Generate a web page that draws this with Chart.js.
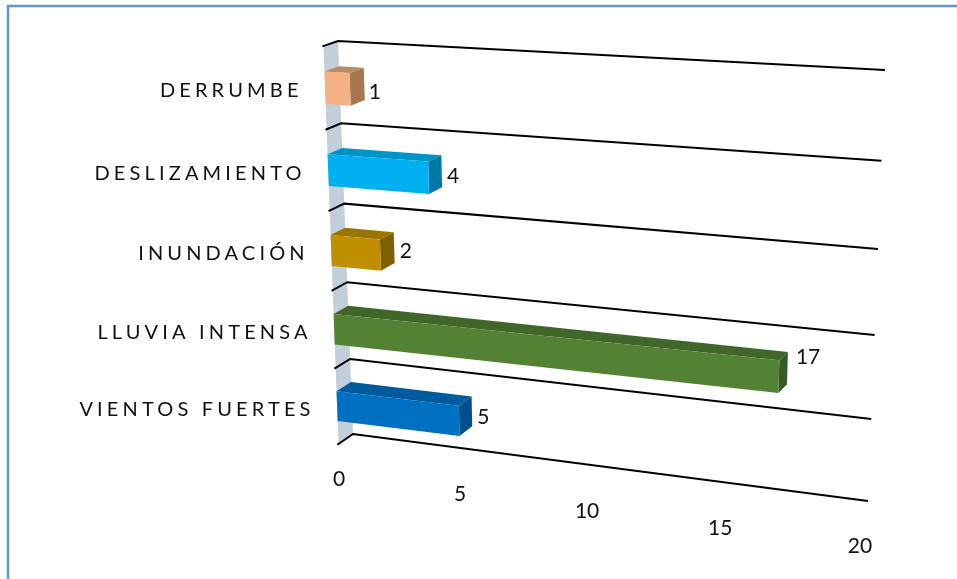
<!DOCTYPE html>
<html>
<head>
<meta charset="utf-8">
<style>
  body { margin: 0; background: #fff; }
</style>
<script src="https://cdn.jsdelivr.net/npm/chart.js@4/dist/chart.umd.min.js"></script>
</head>
<body>
<canvas id="myChart" width="957" height="579"></canvas>
<script>
const categories = ['DERRUMBE', 'DESLIZAMIENTO', 'INUNDACIÓN', 'LLUVIA INTENSA', 'VIENTOS FUERTES']
const values = [1, 4, 2, 17, 5]
const tickLabels = ['0', '5', '10', '15', '20']
const frontColors = ['#f4b183', '#00b0f0', '#bf8f00', '#548235', '#0070c0']
const topColors = ['#b98a64', '#0093c8', '#9c7500', '#41662a', '#005a9e']
const sideColors = ['#a8764f', '#0078a6', '#7f6000', '#3a5a25', '#004f8c']

// corners of the tilted wall the value grid is drawn on
const wall = [[338, 41], [885, 70], [868, 501], [353, 434]]

function makeHomography(q) {
  const sx = q[0][0] - q[1][0] + q[2][0] - q[3][0]
  const sy = q[0][1] - q[1][1] + q[2][1] - q[3][1]
  const dx1 = q[1][0] - q[2][0], dx2 = q[3][0] - q[2][0]
  const dy1 = q[1][1] - q[2][1], dy2 = q[3][1] - q[2][1]
  const det = dx1 * dy2 - dx2 * dy1
  const g = (sx * dy2 - dx2 * sy) / det
  const h = (dx1 * sy - sx * dy1) / det
  const a = q[1][0] - q[0][0] + g * q[1][0]
  const b = q[3][0] - q[0][0] + h * q[3][0]
  const d = q[1][1] - q[0][1] + g * q[1][1]
  const e = q[3][1] - q[0][1] + h * q[3][1]
  return (u, v) => {
    const w = g * u + h * v + 1
    return [(a * u + b * v + q[0][0]) / w, (d * u + e * v + q[0][1]) / w]
  }
}
const onWall = makeHomography(wall)

// pixel from the chart's own scales -> tilted picture position
function project(chart, px, py, depth) {
  const area = chart.chartArea
  const u = (px - area.left) / area.width
  const v = (py - area.top) / area.height
  const p = onWall(u, v)
  return [p[0] + depth * (-14.5 + 7 * u), p[1] + depth * (5 + 5 * v)]
}

function fillPoly(ctx, pts, color) {
  ctx.fillStyle = color
  ctx.beginPath()
  pts.forEach((p, i) => i ? ctx.lineTo(p[0], p[1]) : ctx.moveTo(p[0], p[1]))
  ctx.closePath()
  ctx.fill()
}

const tilted3d = {
  id: 'tilted3d',
  beforeDraw(chart) {
    const ctx = chart.ctx
    ctx.save()
    ctx.fillStyle = '#fff'
    ctx.fillRect(0, 0, chart.width, chart.height)
    ctx.strokeStyle = '#5b9bd5'
    ctx.lineWidth = 2.5
    ctx.beginPath()
    ctx.moveTo(8, chart.height)
    ctx.lineTo(8, 6)
    ctx.lineTo(chart.width, 6)
    ctx.stroke()
    ctx.restore()
  },
  beforeDatasetsDraw(chart) {
    const ctx = chart.ctx
    const xs = chart.scales.x, ys = chart.scales.y
    const area = chart.chartArea
    const x0 = xs.getPixelForValue(0), x1 = xs.getPixelForValue(20)
    ctx.save()

    // grey side wall
    fillPoly(ctx, [
      project(chart, x0, area.top, 0), project(chart, x0, area.bottom, 0),
      project(chart, x0, area.bottom, 1), project(chart, x0, area.top, 1)
    ], '#c2cfda')

    // grid lines at the category boundaries
    ctx.strokeStyle = '#000'
    ctx.lineWidth = 2
    for (let i = 0; i <= categories.length; i++) {
      const py = ys.getPixelForValue(i - 0.5)
      const a = project(chart, x0, py, 1.08), b = project(chart, x0, py, 0), c = project(chart, x1, py, 0)
      ctx.beginPath()
      ctx.moveTo(a[0], a[1])
      ctx.lineTo(b[0], b[1])
      ctx.lineTo(c[0], c[1])
      ctx.stroke()
    }

    // bars
    chart.getDatasetMeta(0).data.forEach((bar, i) => {
      const top = bar.y - bar.height / 2, bottom = bar.y + bar.height / 2
      const bTL = project(chart, bar.base, top, 0), bTR = project(chart, bar.x, top, 0)
      const bBR = project(chart, bar.x, bottom, 0)
      const fTL = project(chart, bar.base, top, 1), fTR = project(chart, bar.x, top, 1)
      const fBR = project(chart, bar.x, bottom, 1), fBL = project(chart, bar.base, bottom, 1)
      fillPoly(ctx, [bTL, bTR, fTR, fTL], topColors[i])
      fillPoly(ctx, [bTR, bBR, fBR, fTR], sideColors[i])
      fillPoly(ctx, [fTL, fTR, fBR, fBL], frontColors[i])
    })
    ctx.restore()
    // the bars are painted above, skip the flat default ones
    return false
  },
  afterDraw(chart) {
    const ctx = chart.ctx
    const xs = chart.scales.x
    const area = chart.chartArea
    const valueFont = '21px Lato'
    const labelNudge = [[4, 8], [5, 5], [5, 4], [8, -11], [5, 6]]
    ctx.save()
    ctx.fillStyle = '#111'
    ctx.textBaseline = 'middle'

    chart.getDatasetMeta(0).data.forEach((bar, i) => {
      const top = bar.y - bar.height / 2, bottom = bar.y + bar.height / 2
      // category label left of the front face
      const fl = project(chart, bar.base, bar.y, 1)
      ctx.font = '20px Lato'
      ctx.letterSpacing = '4.15px'
      ctx.textAlign = 'right'
      ctx.fillText(categories[i], fl[0] - 22.5, fl[1] + 3)

      // value label right of the bar end
      const a = project(chart, bar.x, top, 0), b = project(chart, bar.x, bottom, 0)
      ctx.font = valueFont
      ctx.letterSpacing = '0px'
      ctx.textAlign = 'left'
      ctx.fillText(String(values[i]), Math.max(a[0], b[0]) + labelNudge[i][0], (a[1] + b[1]) / 2 + labelNudge[i][1])
    })

    // value ticks under the floor line
    ctx.textAlign = 'center'
    ctx.font = valueFont
    tickLabels.forEach(t => {
      const px = xs.getPixelForValue(Number(t))
      const u = (px - area.left) / area.width
      const p = project(chart, px, area.bottom, 0)
      ctx.fillText(t, p[0] - 14 + 6 * u, p[1] + 45)
    })
    ctx.restore()
  }
}

const ctx = document.getElementById('myChart').getContext('2d')
const myChart = new Chart(ctx, {
  type: 'bar',
  plugins: [tilted3d],
  data: {
    labels: categories,
    datasets: [{
      data: values,
      backgroundColor: frontColors,
      barPercentage: 0.39,
      categoryPercentage: 1
    }]
  },
  options: {
    indexAxis: 'y',
    responsive: false,
    animation: false,
    layout: { padding: { left: 60, right: 60, top: 40, bottom: 40 } },
    plugins: {
      legend: { display: false },
      tooltip: { enabled: false }
    },
    scales: {
      x: { display: false, min: 0, max: 20, ticks: { stepSize: 5 } },
      y: { display: false }
    }
  }
})
</script>
</body>
</html>
